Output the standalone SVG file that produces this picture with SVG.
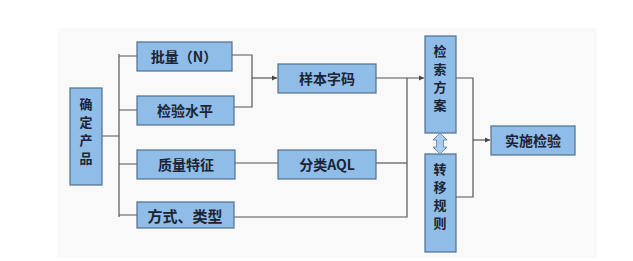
<svg xmlns="http://www.w3.org/2000/svg" width="633" height="261" viewBox="0 0 633 261">
<defs>
<style>
.box{fill:#8fbde8;stroke:#4f6f8f;stroke-width:1.2}
.t{font-family:"Noto Sans CJK SC","Liberation Sans",sans-serif;font-size:14px;font-weight:bold;fill:#1c2433;text-anchor:middle;dominant-baseline:central}
.v{font-size:13px}
.ln{fill:none;stroke:#555;stroke-width:1.2}
</style>
<marker id="ah" markerWidth="6" markerHeight="6" refX="5" refY="3" orient="auto" markerUnits="userSpaceOnUse">
<path d="M0,0.5 L5,3 L0,5.5 Z" fill="#444"/>
</marker>
</defs>
<rect width="633" height="261" fill="#ffffff"/>
<rect x="57" y="28" width="540" height="230" fill="#f9f9f9"/>
<g id="connectors">
<path class="ln" d="M102,136 H119 M119,54 V217 M119,56 H137 M119,110 H137 M119,164 H137 M119,215 H137"/>
<path class="ln" d="M232,55 H252 V107 H234"/>
<path class="ln" d="M252,78 H277" marker-end="url(#ah)"/>
<path class="ln" d="M376,78 H424" marker-end="url(#ah)"/>
<path class="ln" d="M407,78 V217 H234"/>
<path class="ln" d="M235,163 H278"/>
<path class="ln" d="M376,163 H407"/>
<path class="ln" d="M456,78 H473 V197 H456"/>
<path class="ln" d="M473,140 H490" marker-end="url(#ah)"/>
</g>
<g id="n1"><rect class="box" x="70" y="88" width="32" height="97"/>
<text class="t v" x="86" y="103">确</text><text class="t v" x="86" y="121">定</text><text class="t v" x="86" y="139">产</text><text class="t v" x="86" y="157">品</text></g>
<g id="n2"><rect class="box" x="137" y="42" width="95" height="29"/><text class="t" x="184" y="56">批量（N）</text></g>
<g id="n3"><rect class="box" x="137" y="96" width="97" height="29"/><text class="t" x="185" y="110">检验水平</text></g>
<g id="n4"><rect class="box" x="137" y="150" width="98" height="29"/><text class="t" x="186" y="164">质量特征</text></g>
<g id="n5"><rect class="box" x="137" y="202" width="97" height="26"/><text class="t" x="185" y="215" style="font-size:15px">方式、类型</text></g>
<g id="n6"><rect class="box" x="278" y="64" width="98" height="29"/><text class="t" x="327" y="78">样本字码</text></g>
<g id="n7"><rect class="box" x="278" y="150" width="98" height="29"/><text class="t" x="327" y="164">分类AQL</text></g>
<g id="n8"><rect class="box" x="425" y="36" width="31" height="97"/>
<text class="t v" x="440" y="50">检</text><text class="t v" x="440" y="68">索</text><text class="t v" x="440" y="86">方</text><text class="t v" x="440" y="104">案</text></g>
<g id="n9"><rect class="box" x="425" y="154" width="31" height="98"/>
<text class="t v" x="440" y="168">转</text><text class="t v" x="440" y="186">移</text><text class="t v" x="440" y="204">规</text><text class="t v" x="440" y="222">则</text></g>
<g id="dbl"><path d="M440,133 L447,140 H443.5 V147 H447 L440,154 L433,147 H436.5 V140 H433 Z" fill="#a9cdf0" stroke="#6f8fae" stroke-width="1"/></g>
<g id="n10"><rect class="box" x="491" y="126" width="84" height="29"/><text class="t" x="533" y="140">实施检验</text></g>
</svg>
